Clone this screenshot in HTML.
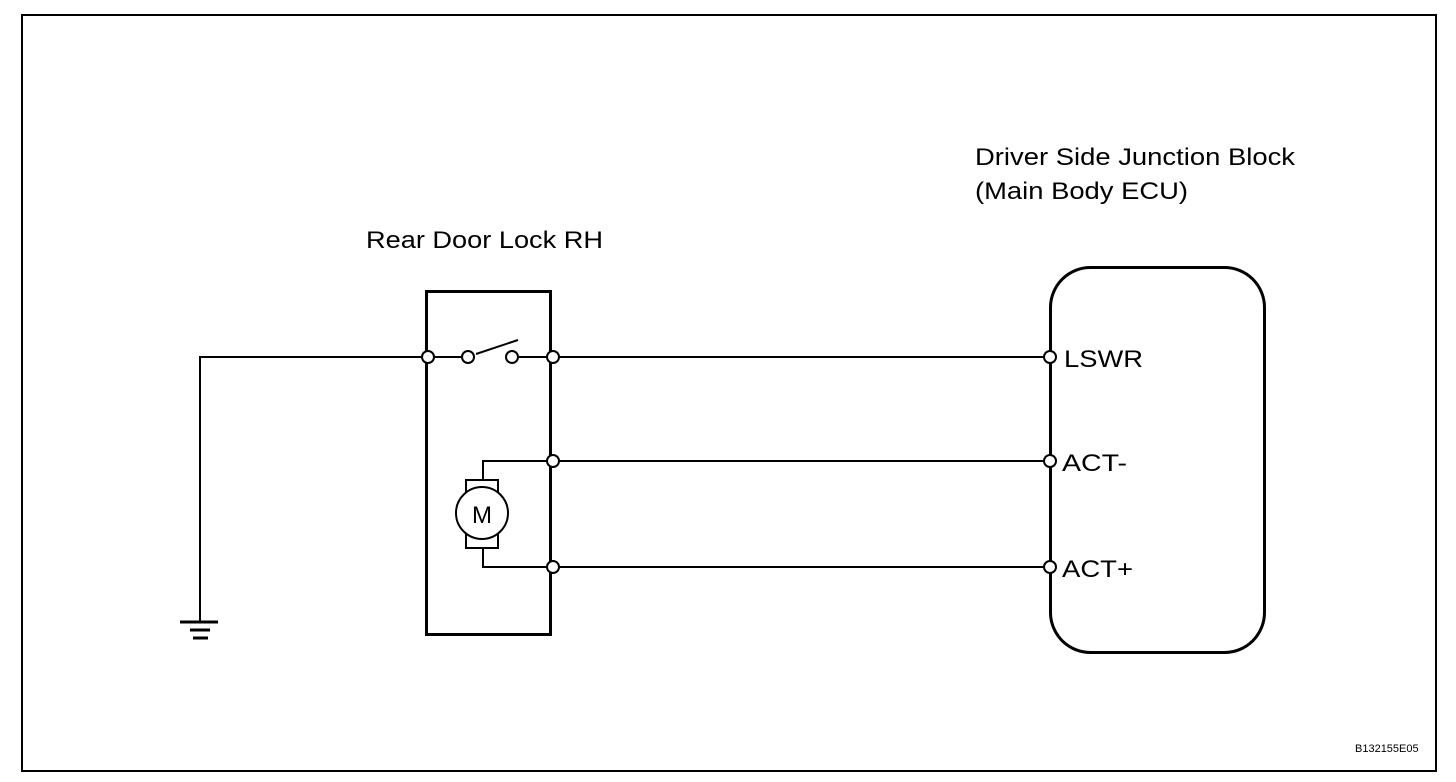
<!DOCTYPE html>
<html><head><style>body{margin:0;background:#fff}svg{display:block}text{font-family:"Liberation Sans",Arial,sans-serif;fill:#000}</style></head><body>
<svg width="1456" height="782" viewBox="0 0 1456 782">
<rect x="22" y="15" width="1414" height="756" fill="none" stroke="#000" stroke-width="2"/>
<g stroke="#000" fill="none">
<path d="M200 621V357H422M434 357H461M518 357H547M559 357H1044M559 461H1044M559 567H1044" stroke-width="2"/>
<path d="M483 480V461H547M483 548V567H547" stroke-width="2"/>
<line x1="476" y1="354" x2="518" y2="340" stroke-width="2"/>
<rect x="426.5" y="291.5" width="124" height="343" stroke-width="3"/>
<rect x="1050.5" y="267.5" width="214" height="385" rx="40" stroke-width="3"/>
<rect x="466" y="480" width="32" height="68" stroke-width="2"/>
<circle cx="482" cy="513" r="26" fill="#fff" stroke-width="2"/>
<g fill="#fff" stroke-width="2">
<circle cx="428" cy="357" r="6"/><circle cx="468" cy="357" r="6"/><circle cx="512" cy="357" r="6"/><circle cx="553" cy="357" r="6"/>
<circle cx="553" cy="461" r="6"/><circle cx="553" cy="567" r="6"/>
<circle cx="1050" cy="357" r="6"/><circle cx="1050" cy="461" r="6"/><circle cx="1050" cy="567" r="6"/>
</g>
<path d="M180 622H218M190 630H210M193 638H208" stroke-width="3"/>
</g>
<text x="482" y="523" font-size="24" text-anchor="middle">M</text>
<text x="366" y="248" font-size="24" textLength="237" lengthAdjust="spacingAndGlyphs">Rear Door Lock RH</text>
<text x="975" y="165" font-size="24" textLength="320" lengthAdjust="spacingAndGlyphs">Driver Side Junction Block</text>
<text x="975" y="199" font-size="24" textLength="213" lengthAdjust="spacingAndGlyphs">(Main Body ECU)</text>
<text x="1064" y="367" font-size="24" textLength="79" lengthAdjust="spacingAndGlyphs">LSWR</text>
<text x="1062" y="471" font-size="24" textLength="65" lengthAdjust="spacingAndGlyphs">ACT-</text>
<text x="1062" y="577" font-size="24" textLength="71" lengthAdjust="spacingAndGlyphs">ACT+</text>
<text x="1355" y="752" font-size="11">B132155E05</text>
</svg></body></html>
